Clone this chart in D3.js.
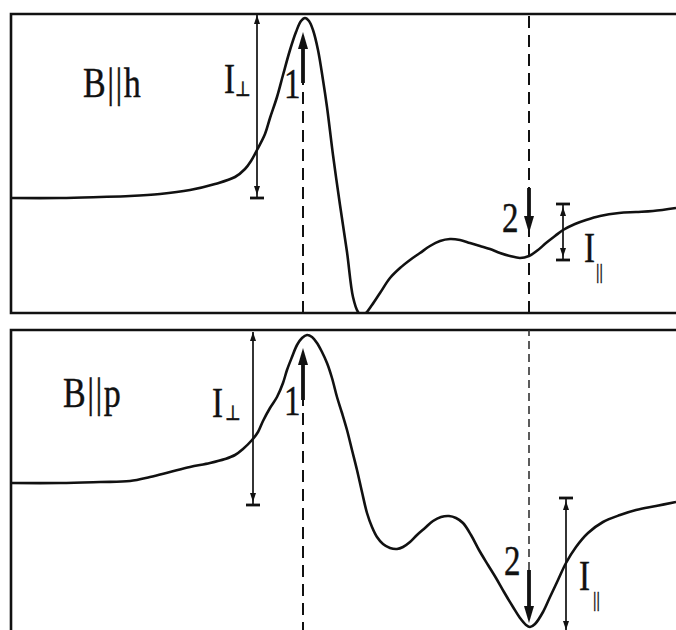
<!DOCTYPE html>
<html>
<head>
<meta charset="utf-8">
<script src="https://cdn.jsdelivr.net/npm/d3@7"></script>
<style>
  html, body { margin: 0; padding: 0; background: #fff; overflow: hidden; }
  svg { display: block; }
  text { font-family: "Liberation Serif", "Times New Roman", "DejaVu Serif", serif; }
</style>
</head>
<body>
<svg id="chart" width="676" height="630"></svg>
<script>
// ---------------- DATA (arbitrary field units / intensity units) ----------------
const fieldTop = [0,49,89,119,149,179,204,224,234,240,246,254,259,266,272,279,285,290,294,298,302,307,312,316,322,329,336,342,347,351,355,361,369,379,389,399,409,419,429,439,449,459,469,479,489,499,509,518,527,535,544,552,564,575,589,608,625,642,665];
const signalTop = [115,115,116,117,119,123,129,136,144,152,163,179,195,216,238,263,281,292,295,292,283,263,233,206,158,108,61,16,1,-3,0,8,20,35,45,53,60,67,72,74,73,70,67,64,60,57,55,57,63,70,77,83,89,93,97,100,101,102,105];

const fieldBot = [0,49,89,119,139,159,179,199,214,224,232,241,247,252,259,266,272,276,281,286,291,296,301,306,311,316,321,326,331,336,341,346,351,356,361,366,372,379,386,392,399,406,414,422,430,438,445,452,460,468,477,485,493,502,509,515,519,524,532,539,547,555,565,577,592,609,625,645,665];
const signalBot = [146,146,147,148,152,157,162,166,170,174,180,189,197,208,221,232,246,259,272,284,291,294,292,286,277,266,251,232,216,199,179,159,137,116,102,92,85,81,80,82,87,94,101,108,112,113,111,106,94,79,64,51,37,22,11,4,2,5,17,32,49,66,82,96,107,114,119,123,127];

const panelNames = ["B||h", "B||p"];
const peakField = [292, 518];          // positions of features 1 and 2
const peakLabels = ["1", "2"];

// ---------------- LAYOUT ----------------
const svg = d3.select("#chart");
const W = 676;
const x = d3.scaleLinear().domain([0, 665]).range([11, 676]);
const yTop = d3.scaleLinear().domain([0, 299]).range([313, 14]);
const yBot = d3.scaleLinear().domain([0, 299]).range([629, 330]);

const ink = "#111";

// clip paths
const defs = svg.append("defs");
defs.append("clipPath").attr("id", "clipTop").append("rect")
  .attr("x", x(0)).attr("y", yTop(299)).attr("width", W).attr("height", yTop(0) - yTop(299));
defs.append("clipPath").attr("id", "clipBot").append("rect")
  .attr("x", x(0)).attr("y", yBot(299)).attr("width", W).attr("height", yBot(0) - yBot(299) + 20);

function drawPanel(field, signal, y, clipId, opts) {
  const g = svg.append("g");
  // frame: left, top and bottom sides (right side lies beyond the picture)
  const x0 = x(0), xr = W + 20, yt = y(299), yb = y(opts.frameBottom);
  g.append("path")
    .attr("d", `M${xr},${yt} H${x0} V${yb} H${xr}`)
    .attr("fill", "none").attr("stroke", ink).attr("stroke-width", 2.6);

  const pts = field.map((f, i) => [f, signal[i]]);
  const line = d3.line().x(d => x(d[0])).y(d => y(d[1])).curve(d3.curveCatmullRom.alpha(0.5));
  g.append("path").attr("d", line(pts))
    .attr("clip-path", `url(#${clipId})`)
    .attr("fill", "none").attr("stroke", ink).attr("stroke-width", 2.6)
    .attr("stroke-linejoin", "round");

  // dashed guide lines
  opts.dashes.forEach(d => {
    g.append("line")
      .attr("x1", x(d.f)).attr("x2", x(d.f))
      .attr("y1", y(d.from)).attr("y2", y(d.to))
      .attr("stroke", d.light ? "#333" : ink).attr("stroke-width", d.light ? 1.6 : 2)
      .attr("stroke-dasharray", d.light ? "8,5" : "12,7");
  });

  // thick arrows
  opts.arrows.forEach(a => {
    const xs = x(a.f), y0 = y(a.from), y1 = y(a.to);
    const dir = Math.sign(y1 - y0);
    const headLen = 17, headW = 5;
    g.append("line").attr("x1", xs).attr("x2", xs)
      .attr("y1", y0).attr("y2", y1 - dir * headLen)
      .attr("stroke", ink).attr("stroke-width", 3.8);
    g.append("path")
      .attr("d", `M${xs},${y1} L${xs - headW},${y1 - dir * headLen} L${xs + headW},${y1 - dir * headLen} Z`)
      .attr("fill", ink);
  });

  // measuring brackets
  opts.brackets.forEach(b => {
    const xs = x(b.f), yA = y(b.hi), yB = y(b.lo);
    g.append("line").attr("x1", xs).attr("x2", xs).attr("y1", yA).attr("y2", yB)
      .attr("stroke", ink).attr("stroke-width", 1.7);
    const tipA = b.barHi ? yA + 3 : yA;
    const tipB = b.barLo ? yB - 3 : yB;
    g.append("path").attr("d", `M${xs},${tipA} L${xs - 3},${tipA + 9} L${xs + 3},${tipA + 9} Z`).attr("fill", ink);
    g.append("path").attr("d", `M${xs},${tipB} L${xs - 3},${tipB - 9} L${xs + 3},${tipB - 9} Z`).attr("fill", ink);
    if (b.barHi) g.append("line").attr("x1", xs - 7).attr("x2", xs + 7).attr("y1", yA).attr("y2", yA)
      .attr("stroke", ink).attr("stroke-width", 2.8);
    if (b.barLo) g.append("line").attr("x1", xs - 7).attr("x2", xs + 7).attr("y1", yB).attr("y2", yB)
      .attr("stroke", ink).attr("stroke-width", 2.8);
  });

  // labels
  opts.labels.forEach(l => {
    g.append("text")
      .attr("transform", `translate(${x(l.f)},${y(l.v)}) scale(1,1.25)`)
      .style("font-size", l.size + "px")
      .style("letter-spacing", (l.ls || 0) + "px")
      .attr("fill", ink)
      .attr("stroke", ink)
      .attr("stroke-width", 0.35)
      .text(l.t);
  });
}

drawPanel(fieldTop, signalTop, yTop, "clipTop", {
  frameBottom: 0,
  dashes: [
    { f: peakField[0], from: 0, to: 230 },
    { f: peakField[1], from: 0, to: 299 }
  ],
  arrows: [
    { f: peakField[0], from: 230, to: 281 },
    { f: peakField[1], from: 125, to: 80 }
  ],
  brackets: [
    { f: 246, hi: 298, lo: 115, barHi: false, barLo: true },
    { f: 552, hi: 109, lo: 53, barHi: true, barLo: true }
  ],
  labels: [
    { t: panelNames[0], f: 72, v: 216, size: 34, ls: 1.5 },
    { t: "I", f: 213, v: 220, size: 33 },
    { t: "⊥", f: 224, v: 217, size: 17 },
    { t: peakLabels[0], f: 273, v: 215, size: 33 },
    { t: peakLabels[1], f: 491, v: 81, size: 33 },
    { t: "I", f: 573, v: 51, size: 33 },
    { t: "||", f: 585, v: 35, size: 17 }
  ]
});

drawPanel(fieldBot, signalBot, yBot, "clipBot", {
  frameBottom: -30,
  dashes: [
    { f: peakField[0], from: -5, to: 229 },
    { f: peakField[1], from: 59, to: 299, light: true }
  ],
  arrows: [
    { f: peakField[0], from: 229, to: 281 },
    { f: peakField[1], from: 59, to: 6 }
  ],
  brackets: [
    { f: 242, hi: 297, lo: 124, barHi: false, barLo: true },
    { f: 555, hi: 131, lo: -1, barHi: true, barLo: false }
  ],
  labels: [
    { t: panelNames[1], f: 52, v: 222, size: 34, ls: 1.5 },
    { t: "I", f: 201, v: 212, size: 33 },
    { t: "⊥", f: 214, v: 209, size: 17 },
    { t: peakLabels[0], f: 273, v: 214, size: 33 },
    { t: peakLabels[1], f: 493, v: 54, size: 33 },
    { t: "I", f: 568, v: 39, size: 33 },
    { t: "||", f: 582, v: 23, size: 17 }
  ]
});
</script>
</body>
</html>
